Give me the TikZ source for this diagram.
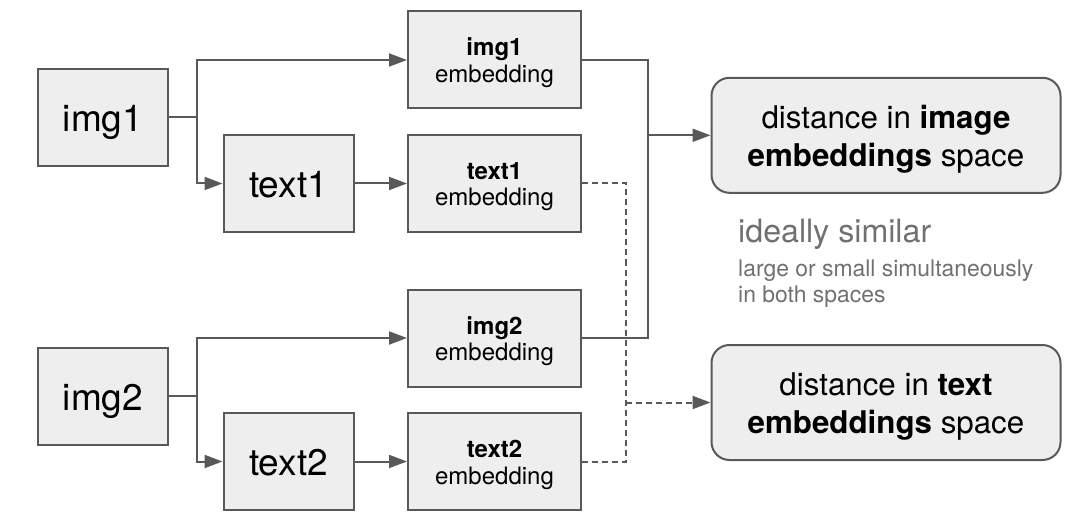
\documentclass[tikz,border=0pt]{standalone}
\usepackage{fontspec}
\setmainfont{TeX Gyre Heros}
\usetikzlibrary{arrows.meta}
\definecolor{linegray}{HTML}{595959}
\definecolor{boxfill}{HTML}{EEEEEE}
\definecolor{notegray}{HTML}{707070}
\tikzset{
  inbox/.style={draw=linegray, fill=boxfill, line width=2pt, inner sep=0pt,
    text height=30pt, text depth=2pt,
    minimum width=130pt, minimum height=97pt, font=\fontsize{37}{40}\selectfont},
  embbox/.style={draw=linegray, fill=boxfill, line width=2pt, inner sep=0pt, align=center,
    text height=50pt, text depth=5pt,
    minimum width=173pt, minimum height=97pt, font=\fontsize{24}{26.5}\selectfont},
  distbox/.style={draw=linegray, fill=boxfill, line width=2pt, inner sep=0pt, align=center,
    text height=66pt, text depth=4pt,
    rounded corners=18pt, minimum width=349pt, minimum height=115pt,
    font=\fontsize{31.3}{38}\selectfont},
  link/.style={draw=linegray, line width=2pt},
  arr/.style={link, -{Triangle[length=18pt,width=13pt]}},
  dlink/.style={link, dash pattern=on 6pt off 4pt}
}
\begin{document}
\begin{tikzpicture}[x=1pt,y=-1pt]
      \useasboundingbox (0,0) rectangle (1087,513);
      \node[inbox] (i1) at (103,117.5) {img1};
      \node[inbox] (t1) at (288.5,183.5) {text1};
      \node[embbox] (e1) at (494.5,60) {\textbf{img1}\\embedding};
      \node[embbox] (te1) at (494.5,183.5) {\textbf{text1}\\embedding};
      \node[inbox] (i2) at (103,396) {img2};
      \node[inbox] (t2) at (288.5,461.5) {text2};
      \node[embbox] (e2) at (494.5,338) {\textbf{img2}\\embedding};
      \node[embbox] (te2) at (494.5,461.5) {\textbf{text2}\\embedding};
      \node[distbox] (dimg) at (886,135.3) {distance in \textbf{image}\\\textbf{embeddings} space};
      \node[distbox] (dtxt) at (886,402.5) {distance in \textbf{text}\\\textbf{embeddings} space};
      \node[anchor=base west, text=notegray, inner sep=0pt, font=\fontsize{32.2}{32}\selectfont] (ideal) at (738,242.7) {ideally similar};
      \node[anchor=base west, text=notegray, inner sep=0pt, align=left, font=\fontsize{22.9}{26}\selectfont] (note) at (738,302) {large or small simultaneously\\in both spaces};
      \coordinate (b1) at (197,117.5);
      \coordinate (b2) at (197,396);
      \coordinate (jimg) at (648,135.3);
      \coordinate (jtxt) at (626,402.5);
      \draw[link] (i1.east) -- (b1);
      \draw[arr] (b1) |- (e1.west);
      \draw[arr] (b1) |- (t1.west);
      \draw[arr] (t1) -- (te1);
      \draw[link] (i2.east) -- (b2);
      \draw[arr] (b2) |- (e2.west);
      \draw[arr] (b2) |- (t2.west);
      \draw[arr] (t2) -- (te2);
      \draw[link] (e1.east) -| (jimg) |- (e2.east);
      \draw[arr] (jimg) -- (dimg.west);
      \draw[dlink] (te1.east) -| (jtxt) |- (te2.east);
      \draw[dlink, arr] (jtxt) -- (dtxt.west);
\end{tikzpicture}
\end{document}
